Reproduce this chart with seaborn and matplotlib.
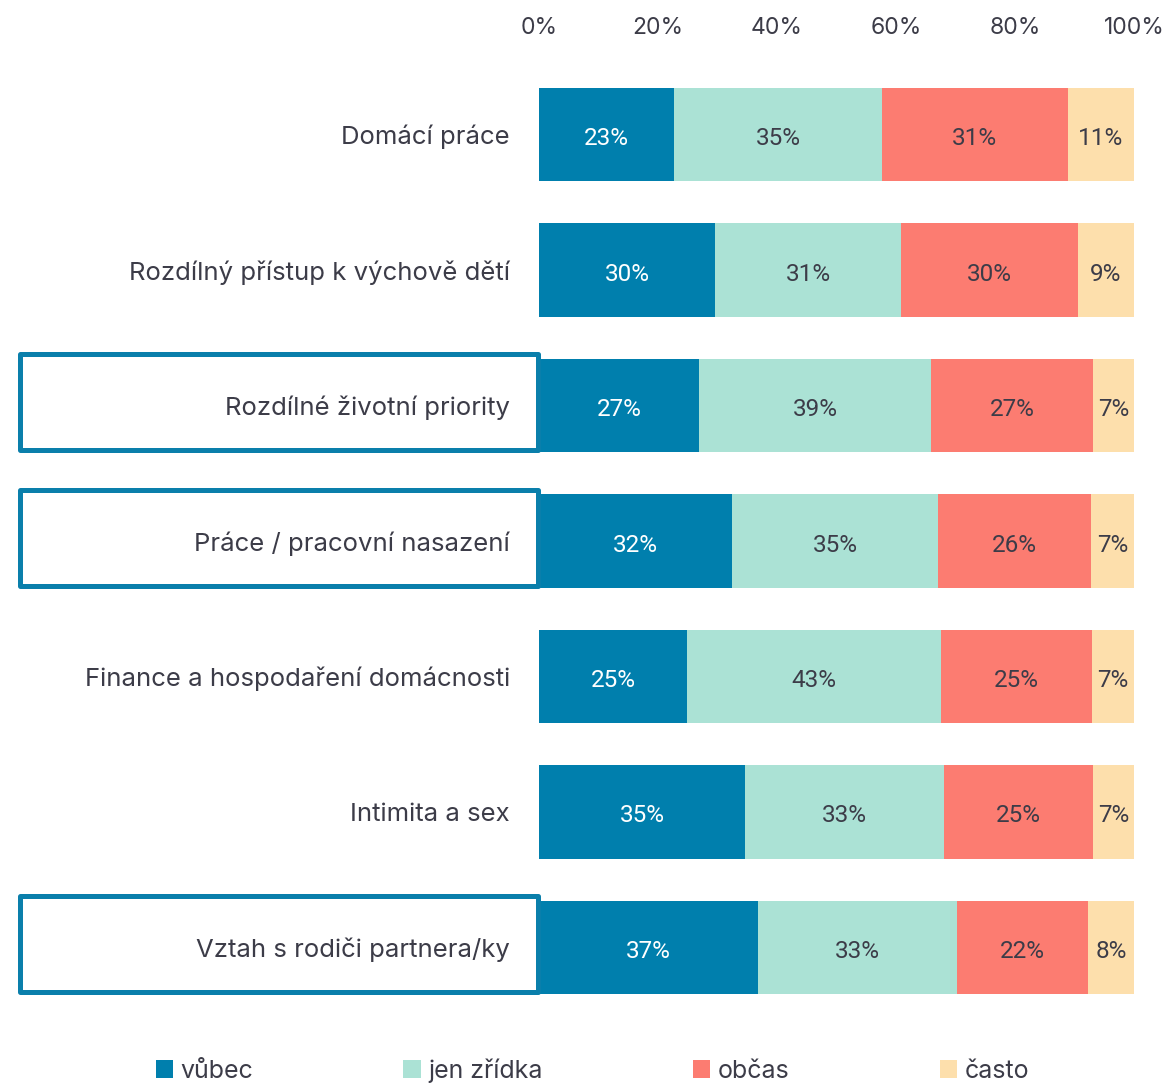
import matplotlib

matplotlib.use("Agg")

import matplotlib.pyplot as plt
import numpy as np
import pandas as pd
import seaborn as sns
from matplotlib.patches import Patch, Rectangle
from matplotlib.transforms import blended_transform_factory


categories = [
    "Domácí práce",
    "Rozdílný přístup k výchově dětí",
    "Rozdílné životní priority",
    "Práce / pracovní nasazení",
    "Finance a hospodaření domácnosti",
    "Intimita a sex",
    "Vztah s rodiči partnera/ky",
]
vubec = [22.7, 29.6, 26.9, 32.4, 24.9, 34.6, 36.8]
zridka = [34.9, 31.2, 39.0, 34.7, 42.7, 33.4, 33.4]
obcas = [31.3, 29.8, 27.2, 25.6, 25.3, 25.1, 22.1]
casto = [11.1, 9.4, 6.9, 7.3, 7.1, 6.9, 7.7]
series_names = ["vůbec", "jen zřídka", "občas", "často"]
highlighted = [
    "Rozdílné životní priority",
    "Práce / pracovní nasazení",
    "Vztah s rodiči partnera/ky",
]

colors = ["#007FAD", "#ABE2D5", "#FC7C71", "#FDDFAC"]
text_color = "#3C3C48"
box_color = "#0A7FAB"

sns.set_theme(style="white")
plt.rcParams["font.family"] = ["Inter", "DejaVu Sans"]

df = pd.DataFrame(
    {"category": categories, series_names[0]: vubec, series_names[1]: zridka,
     series_names[2]: obcas, series_names[3]: casto}
)
cum = df[series_names].cumsum(axis=1)

fig = plt.figure(figsize=(11.64, 10.86), dpi=100)
ax = fig.add_axes([539 / 1164, 71 / 1086, 595 / 1164, 948 / 1086])

# stacked bars: draw the longest cumulative first, then overlay shorter ones
for name, color in reversed(list(zip(series_names, colors))):
    sns.barplot(
        x=cum[name], y=df["category"], orient="h", color=color,
        saturation=1, width=0.69, ax=ax, linewidth=0,
    )

for i, row in df.iterrows():
    left = 0
    for j, name in enumerate(series_names):
        v = row[name]
        ax.text(
            left + v / 2, i + 0.03, f"{v:.0f}%", ha="center", va="center",
            fontsize=17.5, family=["Roboto", "DejaVu Sans"],
            color="white" if j == 0 else text_color,
        )
        left += v

ax.set_xlim(0, 100)
ax.xaxis.tick_top()
ax.set_xticks(np.arange(0, 101, 20))
ax.set_xticklabels([f"{t}%" for t in range(0, 101, 20)])
ax.tick_params(axis="x", length=0, pad=20, labelsize=16.5, labelcolor=text_color)
ax.tick_params(axis="y", length=0, pad=21, labelsize=18.5, labelcolor=text_color)
ax.set_xlabel("")
ax.set_ylabel("")
for s in ax.spines.values():
    s.set_visible(False)

trans = blended_transform_factory(fig.transFigure, ax.transData)
for name in highlighted:
    i = categories.index(name)
    ax.add_patch(
        Rectangle(
            (19.5 / 1164, i - 0.38), (537.5 - 19.5) / 1164, 0.71,
            transform=trans, fill=False, edgecolor=box_color,
            linewidth=3.6, joinstyle="round", clip_on=False, zorder=5,
        )
    )

handles = [Patch(facecolor=c, edgecolor="none") for c in colors]
fig.legend(
    handles, series_names, loc="center", bbox_to_anchor=(0.509, 0.0145),
    ncol=4, frameon=False, fontsize=18, labelcolor=text_color,
    handlelength=0.7, handleheight=0.7, handletextpad=0.3,
    columnspacing=6.0,
)

fig.savefig("out.png", dpi=100)
